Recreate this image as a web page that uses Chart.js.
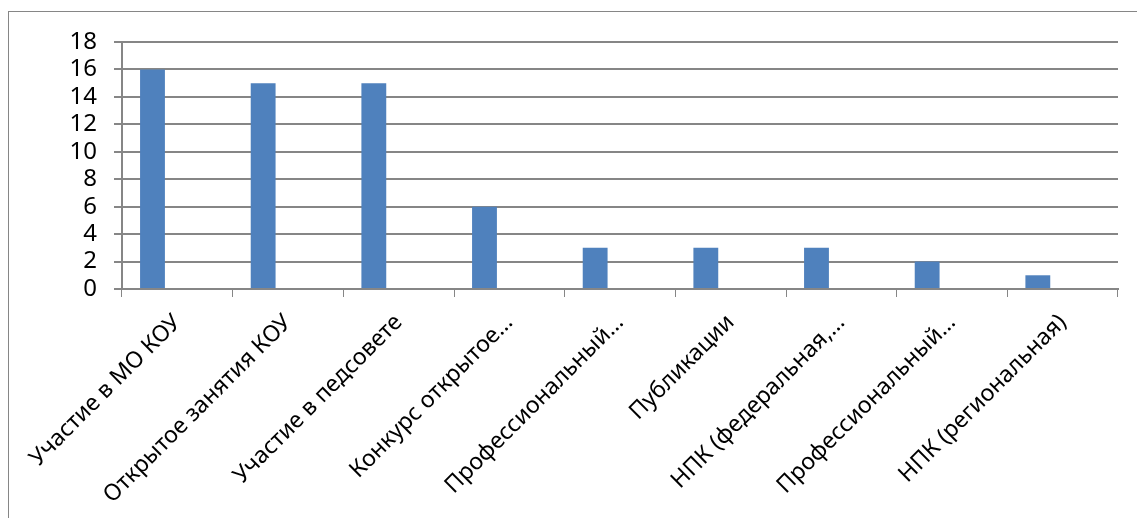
<!DOCTYPE html>
<html>
<head>
<meta charset="utf-8">
<script src="https://cdn.jsdelivr.net/npm/chart.js@4/dist/chart.umd.min.js"></script>
<style>
  html, body { margin: 0; padding: 0; background: #fff; overflow: hidden; }
  #wrap { position: relative; width: 1137px; height: 518px; }
  #frame { position: absolute; left: 8px; top: 11px; width: 1140px; height: 520px; border: 1px solid #868686; box-sizing: border-box; }
  canvas { position: absolute; left: 0; top: 0; }
</style>
</head>
<body>
<div id="wrap">
  <div id="frame"></div>
  <canvas id="myChart" width="1137" height="518"></canvas>
</div>
<script>
// categories as shown on the axis (Excel truncated some of them)
const categories = [
  "Участие в МО КОУ",
  "Открытое занятия КОУ",
  "Участие в педсовете",
  "Конкурс открытое…",
  "Профессиональный…",
  "Публикации",
  "НПК (федеральная,…",
  "Профессиональный…",
  "НПК (региональная)",
];
const values = [16, 15, 15, 6, 3, 3, 3, 2, 1];
// second (empty) series, as in the original sheet
const emptySeries = [null, null, null, null, null, null, null, null, null];
const yTicks = [0, 2, 4, 6, 8, 10, 12, 14, 16, 18];

const gridColor = "#868686";
const fontFamily = "'Noto Sans', 'Open Sans', sans-serif";

const myChartRef = document.getElementById("myChart").getContext("2d");

new Chart(myChartRef, {
  type: "bar",
  data: {
    labels: categories,
    datasets: [
      {
        label: "Ряд 1",
        data: values,
        backgroundColor: "#4F81BD",
        categoryPercentage: 0.898,
        barPercentage: 0.5,
      },
      {
        label: "Ряд 2",
        data: emptySeries,
        backgroundColor: "#C0504D",
        categoryPercentage: 0.898,
        barPercentage: 0.5,
      },
    ],
  },
  options: {
    responsive: false,
    animation: false,
    layout: { padding: { left: 0, right: 19, top: 42, bottom: 0 } },
    plugins: {
      legend: { display: false },
      tooltip: { enabled: false },
    },
    scales: {
      x: {
        grid: {
          drawOnChartArea: false,
          drawTicks: true,
          tickLength: 8,
          color: gridColor,
          lineWidth: 1,
        },
        border: { color: gridColor, width: 2 },
        ticks: {
          maxRotation: 45,
          minRotation: 45,
          autoSkip: false,
          padding: 12,
          color: "#000",
          font: { family: fontFamily, size: 23 },
        },
        afterFit: (scale) => {
          scale.height = 229;
        },
      },
      y: {
        min: 0,
        max: 18,
        afterBuildTicks: (scale) => {
          scale.ticks = yTicks.map((v) => ({ value: v }));
        },
        grid: {
          color: gridColor,
          lineWidth: 2,
          drawTicks: true,
          tickLength: 8,
        },
        border: { color: gridColor, width: 2 },
        ticks: {
          autoSkip: false,
          padding: 17,
          color: "#000",
          font: { family: fontFamily, size: 24 },
        },
        afterFit: (scale) => {
          scale.width = 122;
        },
      },
    },
  },
});
</script>
</body>
</html>
